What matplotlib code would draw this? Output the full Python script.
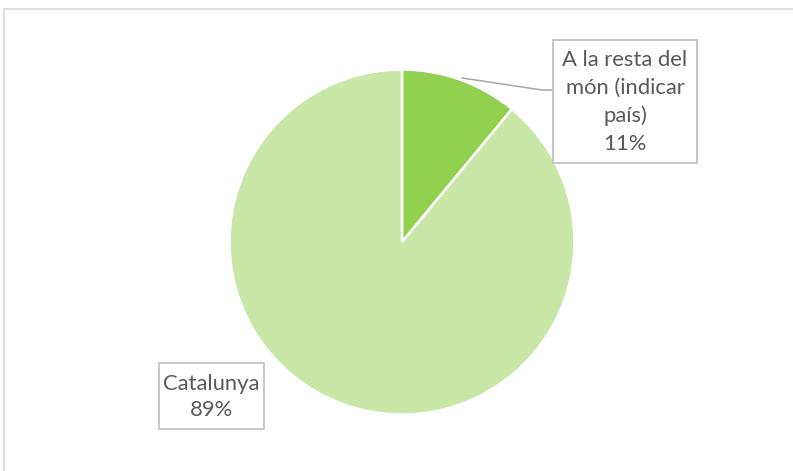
import matplotlib
matplotlib.use("Agg")
import matplotlib.pyplot as plt
from matplotlib.patches import Rectangle

labels = ["A la resta del\nmón (indicar\npaís)", "Catalunya"]
values = [11, 89]
colors = ["#92D050", "#C9E7A7"]

W, H = 793, 471
fig = plt.figure(figsize=(W / 100, H / 100), dpi=100)
ax = fig.add_axes([0, 0, 1, 1])

def py(y):
    return H - y

wedges, _ = ax.pie(values, colors=colors, startangle=90, counterclock=False,
                   center=(402, py(242)), radius=172.5,
                   wedgeprops=dict(edgecolor="white", linewidth=1.8))

ax.set_xlim(0, W)
ax.set_ylim(0, H)
ax.set_aspect("equal")
ax.axis("off")

# chart border (only top and left visible)
ax.plot([4, 4, W + 5], [py(H + 5), py(9), py(9)], color="#D9D9D9", lw=1.2, solid_capstyle="butt")

total = sum(values)
pcts = [f"{round(v / total * 100)}%" for v in values]
txtcolor = "#595959"
font = "Lato"
fs = 15.8

# label box 1
ax.add_patch(Rectangle((553, py(163)), 144, 123, facecolor="white", edgecolor="#BFBFBF", lw=1.2, zorder=3))
ax.text(625, py(102), labels[0] + "\n" + pcts[0], ha="center", va="center", fontsize=fs,
        color=txtcolor, family=font, linespacing=1.5, zorder=4)
# leader line
ax.plot([462, 542, 553], [py(78), py(90), py(90)], color="#A6A6A6", lw=1.1, zorder=2)

# label box 2
ax.add_patch(Rectangle((159, py(429)), 105, 66, facecolor="white", edgecolor="#BFBFBF", lw=1.2, zorder=3))
ax.text(211.5, py(397), labels[1] + "\n" + pcts[1], ha="center", va="center", fontsize=fs,
        color=txtcolor, family=font, linespacing=1.35, zorder=4)

fig.savefig("out.png", dpi=100)
